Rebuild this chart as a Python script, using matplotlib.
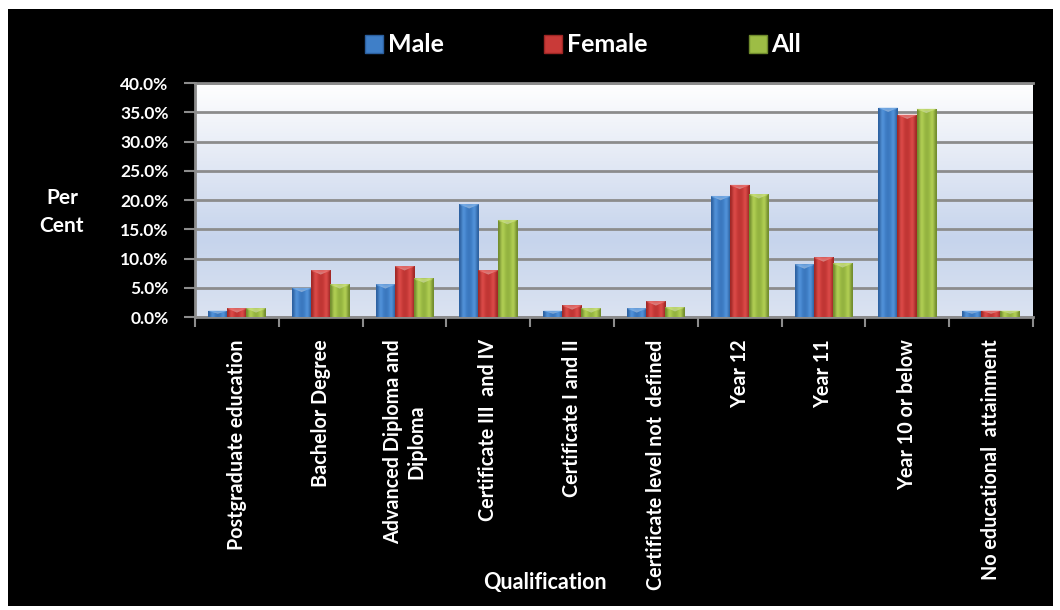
import matplotlib

matplotlib.use("Agg")
import matplotlib.pyplot as plt
import numpy as np
from matplotlib.colors import LinearSegmentedColormap
from matplotlib.lines import Line2D
from matplotlib.patches import Rectangle
from matplotlib.ticker import FuncFormatter, MultipleLocator

categories = [
    "Postgraduate education",
    "Bachelor Degree",
    "Advanced Diploma and\nDiploma",
    "Certificate III  and IV",
    "Certificate I and II",
    "Certificate level not  defined",
    "Year 12",
    "Year 11",
    "Year 10 or below",
    "No educational  attainment",
]
male = [1.1, 5.0, 5.6, 19.3, 1.1, 1.5, 20.7, 9.0, 35.8, 1.1]
female = [1.5, 8.0, 8.7, 8.0, 2.0, 2.7, 22.6, 10.2, 34.6, 1.1]
all_people = [1.5, 5.6, 6.6, 16.6, 1.5, 1.7, 21.0, 9.2, 35.6, 1.1]
series_names = ["Male", "Female", "All"]

# dark edge, light centre, base, dark edge
PALETTES = {
    "Male": ["#2b5f9e", "#5d9fe6", "#3f7fc8", "#2a5a95"],
    "Female": ["#9e2624", "#e85552", "#c93a38", "#962422"],
    "All": ["#6f8a2c", "#c0dc5e", "#9dbd45", "#6a842a"],
}
BASE = {"Male": "#3f7fc8", "Female": "#c93a38", "All": "#9dbd45"}

plt.rcParams["font.family"] = ["Lato", "DejaVu Sans"]
plt.rcParams["font.weight"] = "bold"

fig = plt.figure(figsize=(10.6, 6.1), dpi=100, facecolor="white")
fig.patches.append(
    Rectangle((8 / 1060, 4 / 610), 1045 / 1060, 597 / 610,
              transform=fig.transFigure, facecolor="black", edgecolor="none",
              zorder=-10)
)
ax = fig.add_axes([0.184, 0.4803, 0.7905, 0.3836])

# plot area gradient: white at top, pale blue lower down
bg = LinearSegmentedColormap.from_list(
    "bg", ["#dbe3f1", "#c6d4ec", "#e3e9f5", "#ffffff"])
ax.imshow(np.linspace(0, 1, 256).reshape(-1, 1), cmap=bg, origin="lower",
          extent=[0, 1, 0, 1], transform=ax.transAxes, aspect="auto", zorder=0)

x = np.arange(len(categories))
width = 0.235
grad = np.array([[0.0, 0.15, 0.35, 0.5, 0.65, 0.85, 1.0]])
for i, (name, values) in enumerate(zip(series_names, [male, female, all_people])):
    cmap = LinearSegmentedColormap.from_list(name, PALETTES[name])
    offset = (i - 1) * width * 0.97
    bars = ax.bar(x + offset, values, width, color="none", zorder=3)
    for rect, value in zip(bars, values):
        x0 = rect.get_x()
        im = ax.imshow(np.sin(grad * np.pi) * 0.75, cmap=cmap, vmin=0, vmax=1,
                       extent=[x0, x0 + width, 0, value], aspect="auto",
                       zorder=3, interpolation="bicubic")
        im.set_clip_path(rect)
        # bevel at the top of each bar
        bevel = min(0.75, value * 0.5)
        ax.fill([x0, x0 + width, x0 + width / 2], [value, value, value - bevel],
                color="white", alpha=0.35, lw=0, zorder=4)
        ax.fill([x0, x0 + width * 0.12, x0 + width * 0.88, x0 + width],
                [value, value - bevel * 0.5, value - bevel * 0.5, value],
                color=PALETTES[name][1], alpha=0.5, lw=0, zorder=4)

ax.set_xlim(-0.5, len(categories) - 0.5)
ax.set_ylim(0, 40)
ax.yaxis.set_major_locator(MultipleLocator(5))
ax.yaxis.set_major_formatter(FuncFormatter(lambda v, _: f"{v:.1f}%"))
ax.set_axisbelow(True)
ax.yaxis.grid(True, color="#8c8c8c", lw=2, zorder=1)

ax.set_xticks(x)
ax.set_xticklabels(categories, rotation=90, ha="center", va="top",
                   color="white", fontsize=14.2, fontweight="bold",
                   linespacing=1.2, multialignment="center")
ax.tick_params(axis="x", length=0, pad=16)
ax.set_xticks(np.arange(-0.5, len(categories)), minor=True)
ax.tick_params(axis="x", which="minor", length=7, width=1.5, color="#8c8c8c")
ax.tick_params(axis="y", length=8, width=1.5, color="#8c8c8c", pad=11,
               labelcolor="white", labelsize=12.5)
for label in ax.get_yticklabels():
    label.set_fontweight("bold")

for side in ["left", "bottom", "top"]:
    ax.spines[side].set_color("#8c8c8c")
    ax.spines[side].set_linewidth(2)
ax.spines["right"].set_visible(False)

fig.text(62 / 1060, 1 - 212 / 610, "Per\nCent", color="white", fontsize=15,
         fontweight="bold", ha="center", va="center", linespacing=1.45)
fig.text(545 / 1060, 1 - 582 / 610, "Qualification", color="white",
         fontsize=15.5, fontweight="bold", ha="center", va="center")

handles = [
    Line2D([], [], marker="s", linestyle="none", markersize=13,
           markerfacecolor=BASE[name], markeredgecolor=PALETTES[name][0])
    for name in series_names
]
fig.legend(handles, series_names, loc="center", ncol=3,
           bbox_to_anchor=(0.549, 1 - 45 / 610), frameon=False,
           labelcolor="white", prop={"size": 18, "weight": "bold"},
           handletextpad=0.1, columnspacing=3.95, handlelength=0.9)

fig.savefig("out.png", dpi=100, facecolor="white")
